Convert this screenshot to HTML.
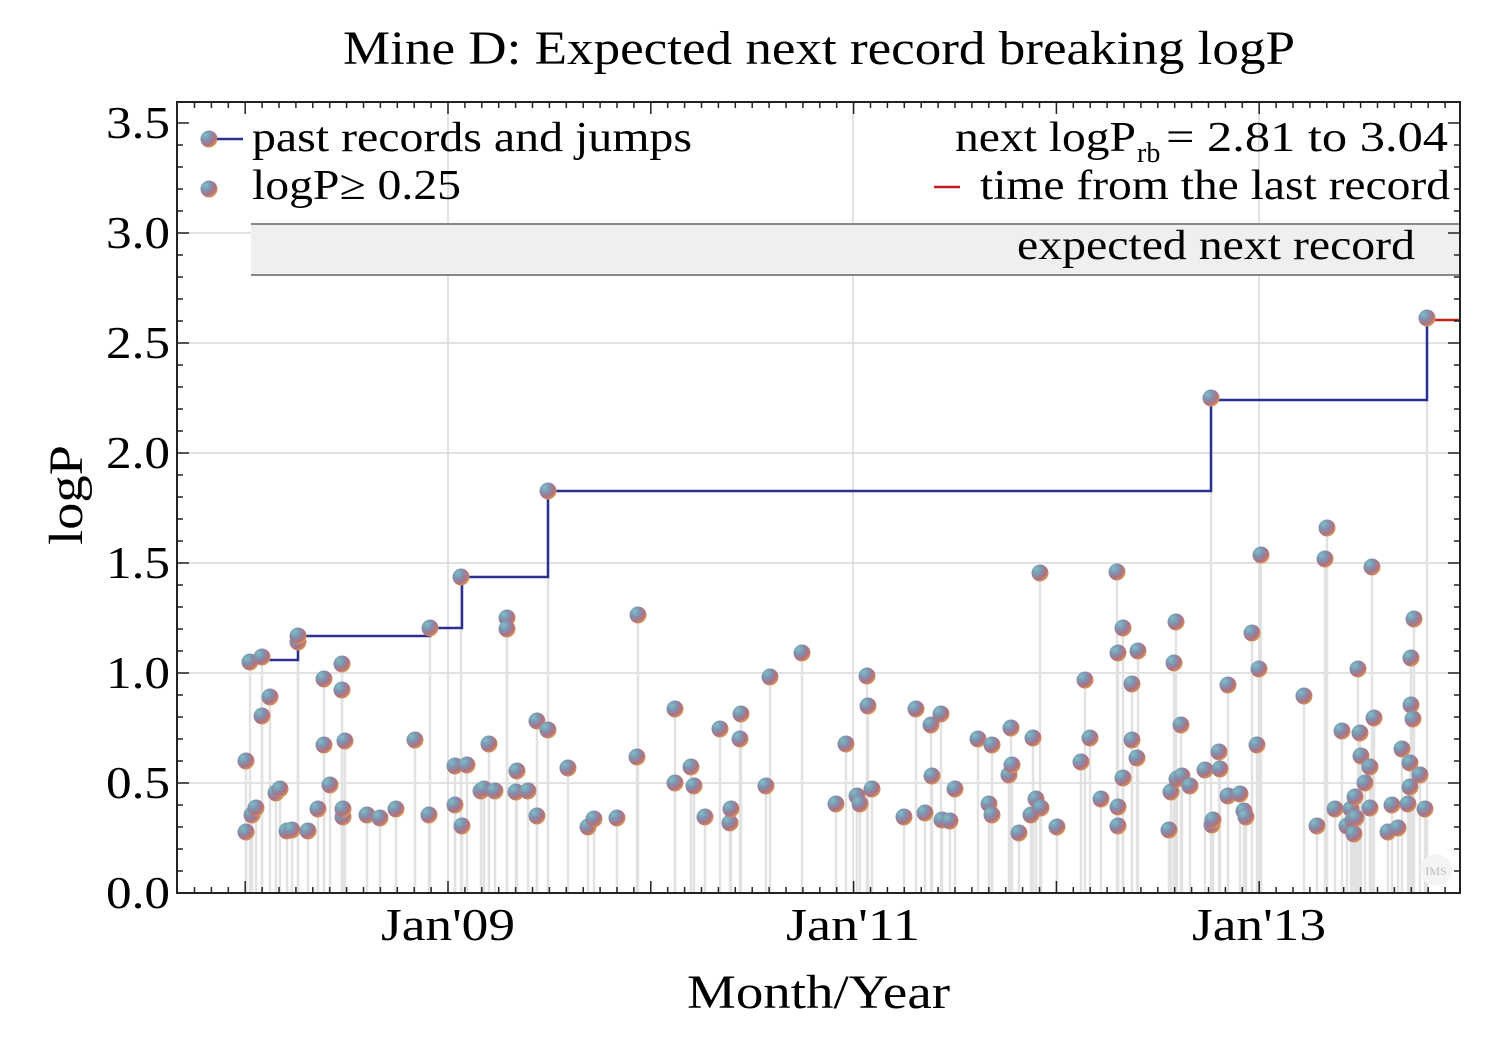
<!DOCTYPE html>
<html><head><meta charset="utf-8"><style>
html,body{margin:0;padding:0;background:#fff;}
svg{display:block;font-family:"Liberation Serif",serif;}
</style></head><body>
<svg id="s" width="1500" height="1041" viewBox="0 0 1500 1041" xmlns="http://www.w3.org/2000/svg">
<defs>
<radialGradient id="g" cx="0.3" cy="0.28" r="0.8">
<stop offset="0" stop-color="#7cc0c4"/>
<stop offset="0.4" stop-color="#8090b0"/>
<stop offset="0.75" stop-color="#b4707a"/>
<stop offset="1" stop-color="#e0a050"/>
</radialGradient>
</defs>
<text x="343" y="64" font-size="48" textLength="952" lengthAdjust="spacingAndGlyphs">Mine D: Expected next record breaking logP</text>
<g id="grid" stroke="#d8d8d8" stroke-width="1.5"></g>
<rect x="251" y="224" width="1209" height="51" fill="#eeeff1" stroke="none"/>
<line x1="251" y1="224" x2="1460" y2="224" stroke="#888" stroke-width="2"/>
<line x1="251" y1="275" x2="1460" y2="275" stroke="#888" stroke-width="2"/>
<g id="stems" stroke="#e2e2e2" stroke-width="2.5"></g>
<polyline fill="none" stroke="#2a2f90" stroke-width="2.5" points="250,660 298,660 298,636 430,636 430,628 462,628 462,577 548,577 548,491 1211,491 1211,400 1427,400 1427,318"/>
<line x1="1427" y1="320" x2="1460" y2="320" stroke="#c02020" stroke-width="2.5"/>
<g id="pts"></g>
<text x="1017" y="259" font-size="42" textLength="398" lengthAdjust="spacingAndGlyphs">expected next record</text>
<circle cx="209" cy="139" r="8.5" fill="url(#g)"/><line x1="217" y1="139" x2="243" y2="139" stroke="#2a2f90" stroke-width="2.5"/>
<text x="252" y="151" font-size="42" textLength="440" lengthAdjust="spacingAndGlyphs">past records and jumps</text>
<circle cx="209" cy="189" r="8.5" fill="url(#g)"/>
<text x="252" y="199" font-size="42" textLength="209" lengthAdjust="spacingAndGlyphs">logP≥ 0.25</text>
<text x="955" y="151" font-size="42" textLength="181" lengthAdjust="spacingAndGlyphs">next logP</text>
<text x="1137" y="162" font-size="28">rb</text>
<text x="1166" y="151" font-size="42" textLength="282" lengthAdjust="spacingAndGlyphs">= 2.81  to 3.04</text>
<line x1="934" y1="187" x2="960" y2="187" stroke="#c02020" stroke-width="2.5"/>
<text x="980" y="199" font-size="42" textLength="470" lengthAdjust="spacingAndGlyphs">time from the last record</text>
<circle cx="1436" cy="870" r="16" fill="#f4f4f4"/><text x="1436" y="875" font-size="12" fill="#bbb" text-anchor="middle">IMS</text>
<rect x="177" y="102" width="1283" height="791" fill="none" stroke="#222" stroke-width="2"/>
<g id="ticks" stroke="#222" stroke-width="1.5"></g>
<g id="lab" font-size="46"></g>
<text x="687" y="1008" font-size="48" textLength="263" lengthAdjust="spacingAndGlyphs">Month/Year</text>
<text transform="translate(82,545) rotate(-90)" font-size="48" textLength="100" lengthAdjust="spacingAndGlyphs">logP</text>
</svg>
<script>
var N="http://www.w3.org/2000/svg";
function el(p,t,a,txt){var e=document.createElementNS(N,t);for(var k in a)e.setAttribute(k,a[k]);if(txt)e.textContent=txt;document.getElementById(p).appendChild(e);}
var xs=[448,853,1259];
xs.forEach(function(x){el('grid','line',{x1:x,y1:102,x2:x,y2:893});});
for(var v=0.5;v<3.5;v+=0.5){var y=893-220*v;el('grid','line',{x1:177,y1:y,x2:1460,y2:y});}
for(var i=0;i<=35;i++){var y=893-22*i;var L=(i%5==0)?12:6;el('ticks','line',{x1:177,y1:y,x2:177+L,y2:y});el('ticks','line',{x1:1460,y1:y,x2:1460-L,y2:y});}
for(var m=-20;m<=60;m++){var x=448+m*16.9;if(x<178||x>1459)continue;var L=(m%12==0)?12:6;el('ticks','line',{x1:x,y1:893,x2:x,y2:893-L});el('ticks','line',{x1:x,y1:102,x2:x,y2:102+L});}
["0.0","0.5","1.0","1.5","2.0","2.5","3.0","3.5"].forEach(function(t,i){el('lab','text',{x:106,y:893-110*i+15,textLength:64,lengthAdjust:'spacingAndGlyphs'},t);});
["Jan'09","Jan'11","Jan'13"].forEach(function(t,i){el('lab','text',{x:xs[i]-67,y:940,textLength:134,lengthAdjust:'spacingAndGlyphs'},t);});
var P=[246,761,246,832,250,662,252,815,256,808,262,657,262,716,270,697,276,793,280,789,287,831,292,830,298,642,298,636,308,831,318,809,324,679,330,785,324,745,342,664,342,690,345,741,343,817,343,809,367,815,380,818,396,809,415,740,429,815,430,628,455,805,455,766,462,826,461,577,467,765,481,791,489,744,484,789,495,791,507,618,507,629,517,771,516,792,528,791,537,816,537,721,548,730,548,491,568,768,588,827,594,819,617,818,638,615,637,757,675,783,675,709,691,767,694,786,705,817,720,729,730,823,731,809,740,739,741,714,766,786,770,677,802,653,836,804,846,744,857,796,860,804,867,676,868,706,872,789,904,817,916,709,925,813,931,725,932,776,941,714,942,820,950,821,955,789,978,739,989,804,992,745,992,815,1009,775,1011,728,1012,765,1019,833,1031,815,1033,738,1036,799,1041,808,1040,573,1057,827,1081,762,1085,680,1090,738,1101,799,1117,572,1118,653,1118,807,1118,826,1123,628,1123,778,1132,684,1132,740,1137,758,1138,651,1169,830,1171,792,1174,663,1176,622,1177,779,1181,725,1182,776,1190,786,1205,770,1212,825,1213,820,1211,398,1219,752,1220,769,1228,685,1228,796,1240,794,1244,811,1246,817,1252,633,1257,745,1259,669,1261,555,1304,696,1317,826,1325,559,1327,528,1335,809,1342,731,1347,826,1351,809,1353,820,1354,834,1355,797,1356,818,1358,669,1360,733,1361,756,1365,783,1370,767,1372,567,1374,718,1370,808,1388,832,1392,805,1398,828,1402,749,1408,804,1410,787,1410,763,1411,705,1411,658,1413,719,1414,619,1420,775,1425,809,1427,318];
for(var i=0;i<P.length;i+=2){el('stems','line',{x1:P[i],y1:P[i+1],x2:P[i],y2:892});}
for(var i=0;i<P.length;i+=2){el('pts','circle',{cx:P[i],cy:P[i+1],r:8.5,fill:'url(#g)'});}
</script>
</body></html>
